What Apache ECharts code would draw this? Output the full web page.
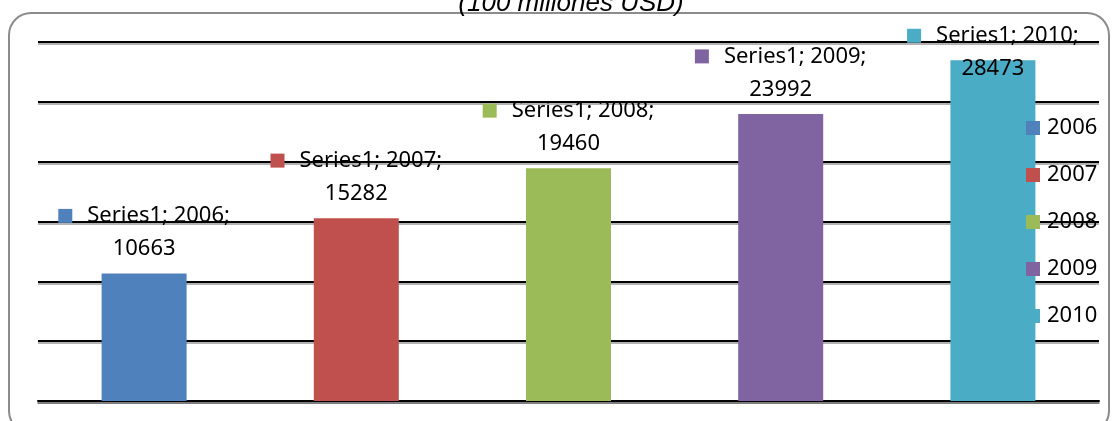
<!DOCTYPE html>
<html>
<head>
<meta charset="utf-8">
<script src="https://cdn.jsdelivr.net/npm/echarts@6/dist/echarts.min.js"></script>
<style>
html, body { margin: 0; padding: 0; background: #fff; }
#main { width: 1113px; height: 421px; }
</style>
</head>
<body>
<div id="main"></div>
<script>
// data
var years = ['2006', '2007', '2008', '2009', '2010'];
var values = [10663, 15282, 19460, 23992, 28473];
var colors = ['#4F81BD', '#C0504D', '#9BBB59', '#8064A2', '#4BACC6'];
var titleText = '(100 millones USD)';

var myChart = echarts.init(document.getElementById('main'));

var series = [];
for (var i = 0; i < years.length; i++) {
    var data = years.map(function (y, j) { return j === i ? values[j] : null; });
    var rich = {
        m: { width: 14, height: 14, backgroundColor: colors[i] },
        g: { width: 15 }
    };
    var label = {
        show: true,
        position: 'top',
        distance: 8,
        color: '#000',
        fontSize: 22,
        fontFamily: 'Noto Sans',
        lineHeight: 33,
        align: 'center',
        rich: rich,
        formatter: function (p) {
            return '{m|}{g|}Series1; ' + p.seriesName + ';\n' + p.value;
        }
    };
    // last label is pushed down into the bar (no room above)
    if (i === years.length - 1) {
        label.position = 'insideTop';
        label.offset = [0, -49];
    }
    series.push({
        name: years[i],
        type: 'bar',
        stack: 'all',
        barWidth: 85,
        itemStyle: { color: colors[i] },
        label: label,
        data: data
    });
}

var option = {
    animation: false,
    title: {
        text: titleText,
        left: 566,
        top: -14,
        textAlign: 'center',
        textStyle: {
            fontSize: 26,
            fontStyle: 'italic',
            fontWeight: 'normal',
            fontFamily: 'Liberation Sans',
            color: '#000'
        }
    },
    graphic: [{
        type: 'rect',
        shape: { x: 9, y: 13, width: 1100, height: 420, r: 22 },
        style: { fill: 'none', stroke: '#8c8c8c', lineWidth: 2 },
        z: -10
    }],
    legend: {
        orient: 'vertical',
        left: 1026,
        top: 117,
        padding: 0,
        icon: 'rect',
        itemWidth: 14,
        itemHeight: 14,
        itemGap: 25,
        textStyle: { fontSize: 22, fontFamily: 'Noto Sans', color: '#000', padding: [0, 0, 0, 2] },
        data: years
    },
    grid: { left: 38, right: 14, top: 42, bottom: 20 },
    xAxis: {
        type: 'category',
        data: years,
        axisLine: { show: true, lineStyle: { color: '#000', width: 2, shadowColor: 'rgba(0,0,0,0.3)', shadowOffsetY: 2 } },
        axisTick: { show: false },
        axisLabel: { show: false }
    },
    yAxis: {
        type: 'value',
        min: 0,
        max: 30000,
        interval: 5000,
        axisLabel: { show: false },
        axisLine: { show: false },
        axisTick: { show: false },
        splitLine: { lineStyle: { color: '#000', width: 2, shadowColor: 'rgba(0,0,0,0.3)', shadowOffsetY: 2 } }
    },
    series: series
};

myChart.setOption(option);
</script>
</body>
</html>
